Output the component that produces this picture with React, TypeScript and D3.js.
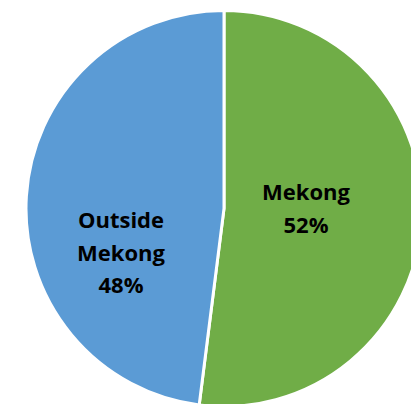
import React from "react";
import * as d3 from "d3";

const categories = ["Mekong", "Outside Mekong"];
const values = [52, 48];
const colors = ["#70AD47", "#5B9BD5"];
const labelLines = [["Mekong", "52%"], ["Outside", "Mekong", "48%"]];

export default function App() {
  const W = 411, H = 404;
  const cx = 224, cy = 208.5, r = 198;
  const pie = d3.pie<number>().sort(null).value((d) => d)(values);
  const arc = d3.arc<d3.PieArcDatum<number>>().innerRadius(0).outerRadius(r);
  const labelPos = [
    [306, 191],
    [121, 219],
  ];
  return (
    <svg width={W} height={H} style={{ position: "absolute", left: 0, top: 0 }}>
      <rect width={W} height={H} fill="#fff" />
      <g transform={`translate(${cx},${cy})`}>
        {pie.map((p, i) => (
          <path key={categories[i]} d={arc(p) || ""} fill={colors[i]} stroke="#fff" strokeWidth={3} />
        ))}
      </g>
      {labelLines.map((lines, i) => (
        <text key={i} textAnchor="middle" fontFamily="'Open Sans', sans-serif" fontWeight="bold" fontSize={22} fill="#000">
          {lines.map((l, j) => (
            <tspan key={j} x={labelPos[i][0]} y={labelPos[i][1] + j * 32.5} dominantBaseline="central">
              {l}
            </tspan>
          ))}
        </text>
      ))}
    </svg>
  );
}
